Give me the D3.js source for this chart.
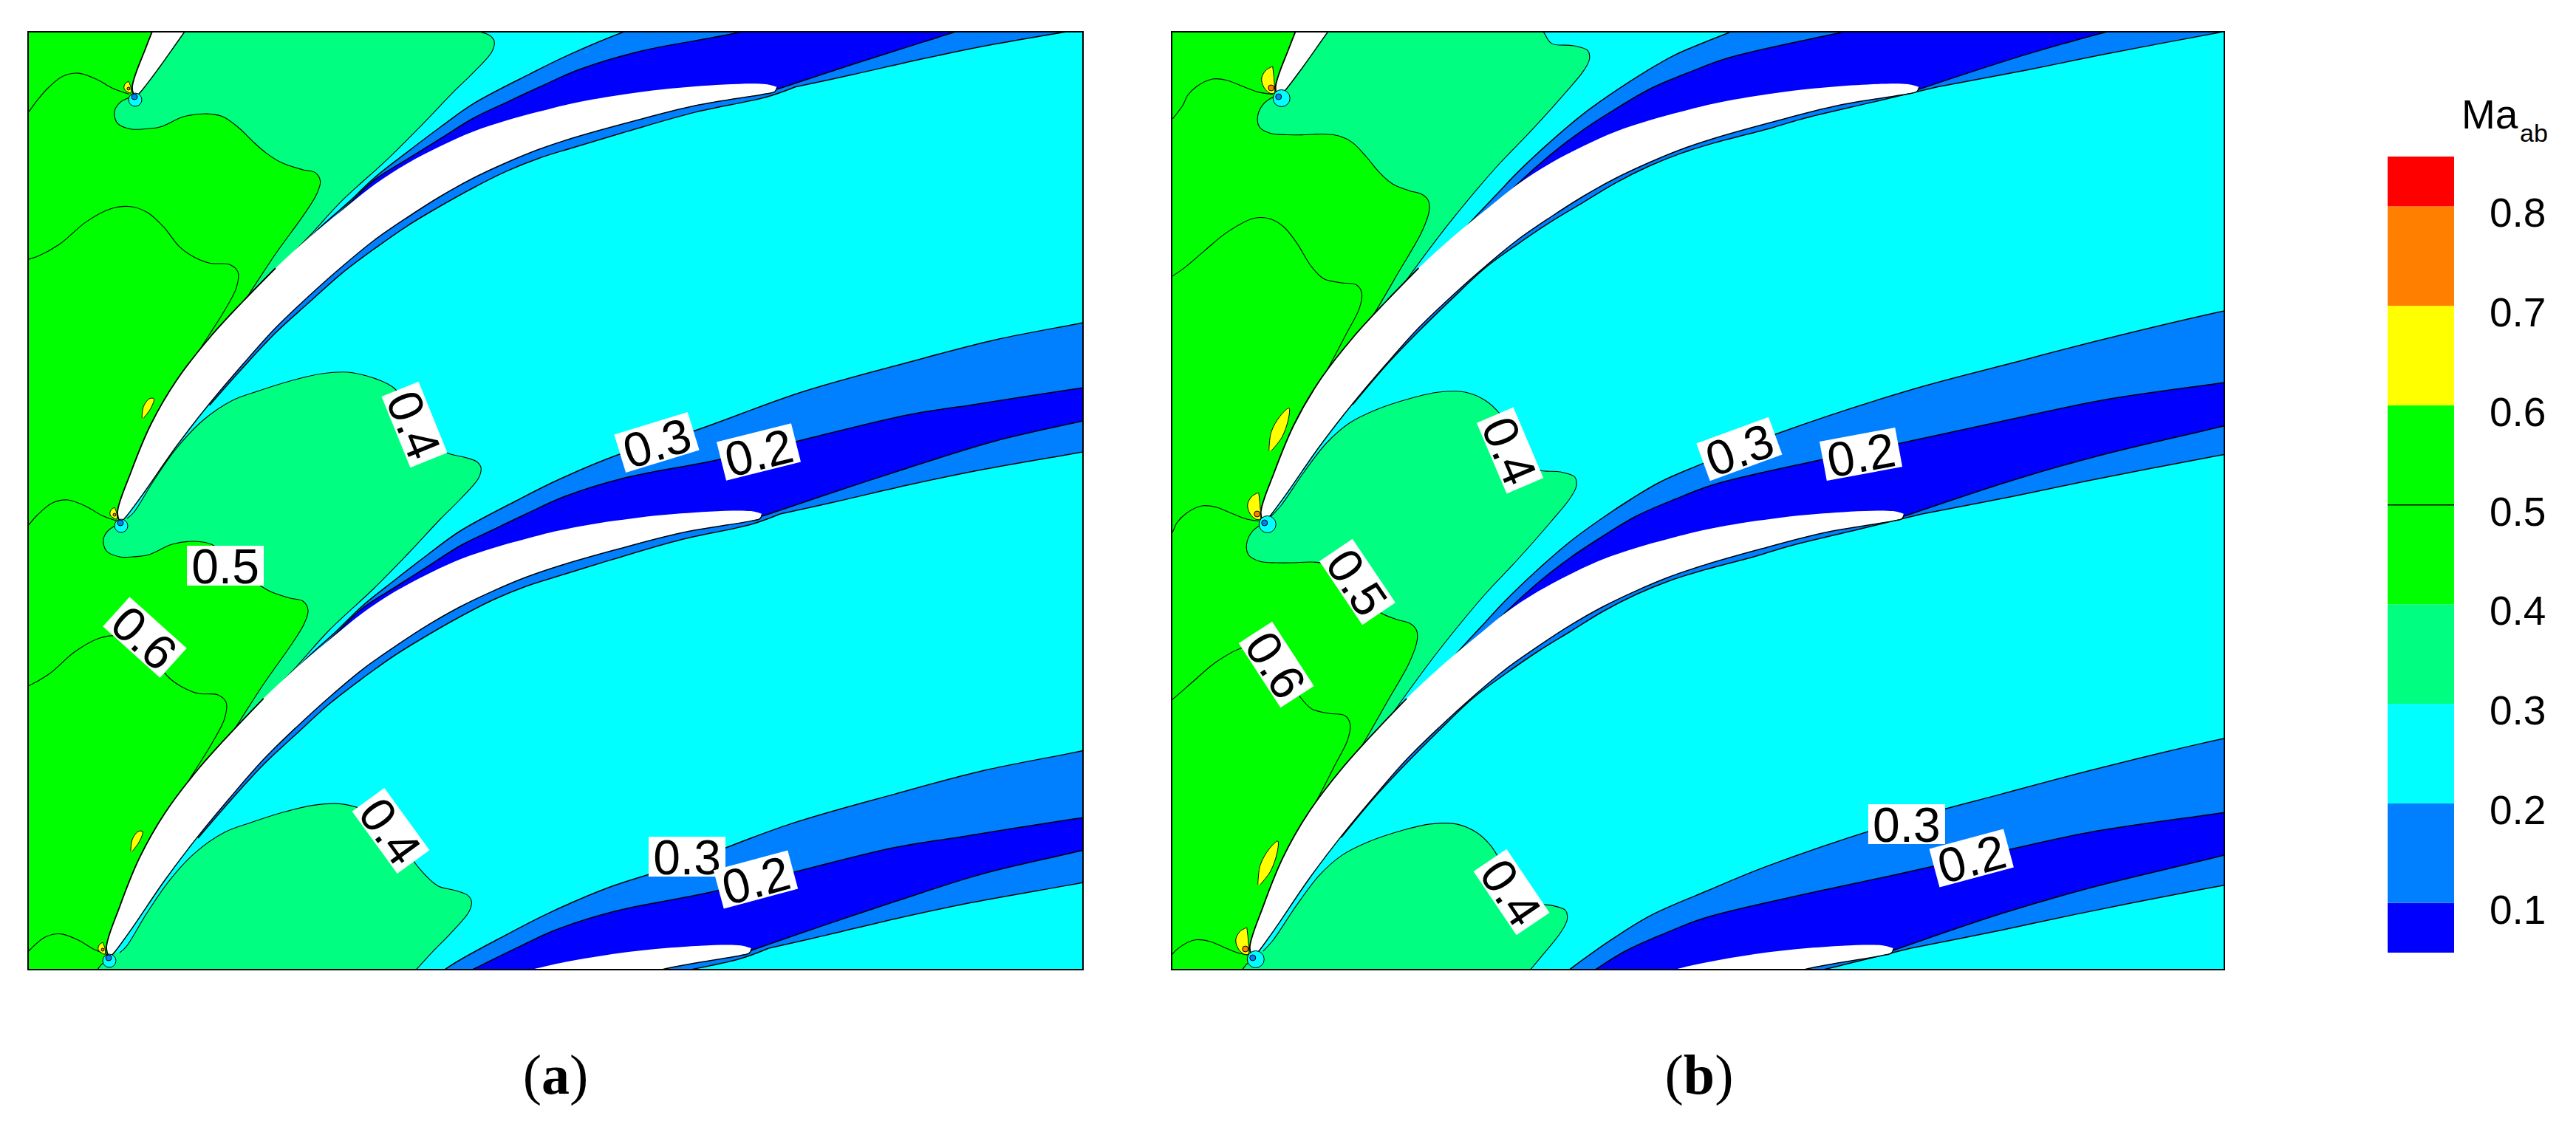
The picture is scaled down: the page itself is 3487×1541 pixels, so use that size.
<!DOCTYPE html>
<html><head><meta charset="utf-8">
<script src="https://cdn.jsdelivr.net/npm/d3@7/dist/d3.min.js"></script>
<style>html,body{margin:0;padding:0;background:#fff}svg{display:block}</style></head>
<body><div id="chart"></div>
<script>
// Colour levels of Ma_ab
const levelEdges = [0.05,0.1,0.2,0.3,0.4,0.6,0.7,0.8,0.85];
const levelColors = ["#0000ff","#0080ff","#00ffff","#00ff80","#00ff00","#ffff00","#ff8000","#ff0000"];
const legendTicks = [0.1,0.2,0.3,0.4,0.5,0.6,0.7,0.8];

// Blade outline (read off, blade no. 2 of the passage)
const bladeUpper = [[163,708],[159,694],[177,640],[204,575],[239,515],[284,457],[329,408],[373,363],[418,322],[463,285],[507,250],[552,221],[596,198],[641,178],[686,163],[730,151],[775,140],[850,127],[941,117],[1037,114],[1052,118]];
const bladeLower = [[1052,118],[1049,124],[1037,127],[941,143],[850,166],[775,187],[730,202],[686,220],[641,241],[596,266],[552,294],[507,325],[463,361],[418,401],[373,444],[329,493],[284,546],[239,604],[195,667],[172,698],[163,708]];
const bladeCopies = [[1.006,19,0.982,-563],[1,0,1,0],[0.994,-14,1.0186,576],[0.988,-22,1.037,1162]];
// Contour stacks (read off around blade no. 3); repeated for each passage
const stackCopies = [[1.012,33,0.964,-1118],[1.006,14.1,0.9817,-565.5],[1,0,1,0],[0.994,-9,1.0186,575]];
const leShifts = [[19,-577],[0,0],[-16,589]];
const camber = [[1010,698],[921,708],[831,725],[668,770],[535,838],[446,904]];
const leadingEdge = [148,1297];

// Panel (a) contours
const aHump = [[172,702],[181,694],[208,651],[239,607],[275,569],[315,542],[351,529],[396,515],[436,506],[471,504],[503,511],[525,520],[534,526],[555,555],[580,590],[605,613],[628,619],[645,625],[651,633],[648,647],[623,676],[596,703],[552,750],[507,796],[446,853],[401,903],[357,950],[340,975]];
const aGreen = [[162,710],[148,717],[140,730],[144,746],[162,754],[180,754],[202,751],[233,737],[264,733],[286,737],[308,753],[326,771],[344,787],[366,801],[393,810],[410,814],[417,826],[412,844],[397,869],[357,926],[326,974],[313,994],[300,1010]];
const aLine60 = [[20,935],[38,929],[66,913],[102,882],[135,864],[162,861],[184,869],[206,889],[228,917],[246,930],[268,939],[295,941],[306,951],[304,973],[286,1008],[268,1037],[255,1058],[240,1085]];
const aLine50 = [[160,706],[138,698],[117,686],[92,677],[71,681],[51,697],[38,712],[25,730]];
const aMidUpper = [[366,939],[392,914],[424,883],[455,855],[490,821],[535,785],[579,751],[623,719],[699,678],[755,650],[836,616],[941,583],[1085,531],[1228,491],[1348,460],[1466,437],[1510,428]];
const aDarkUpper = [[419,893],[455,858],[490,824],[535,795],[579,767],[623,739],[668,717],[712,696],[765,672],[846,647],[970,623],[1085,596],[1228,562],[1324,547],[1466,525],[1510,519]];
const aDarkLower = [[1032,699],[1133,665],[1228,634],[1348,597],[1466,570],[1510,560]];
const aMidLower = [[1056,696],[1133,679],[1228,657],[1324,637],[1466,612],[1510,604]];
const aBand = [[1056,696],[1017,710],[921,731],[831,757],[756,780],[712,794],[668,812],[623,835],[579,860],[535,887],[490,919],[446,953],[401,994],[357,1035],[313,1083],[268,1135]];
const aSliver = [[177,1153],[179,1137],[187,1126],[193,1126],[189,1139],[179,1153]];
const aBubble = [[155,687],[150,691],[149,697],[153,701],[158,703],[158,695]];
const aBubbleCore = [155,697,2];
const aCircle = [164,712,9];
const aCircleCore = [163,708,4];
const aLabels = [["0.4",561,575,68],["0.5",305,766,0],["0.6",196,863,42],["0.4",529,1125,54],["0.3",889,599,-17],["0.2",1027,612,-14],["0.3",930,1160,0],["0.2",1023,1191,-15]];

// Panel (b) contours
const bHump = [[172,700],[186,685],[217,640],[248,600],[279,573],[315,555],[360,540],[400,531],[436,531],[463,542],[483,560],[505,595],[525,620],[536,636],[565,639],[585,646],[587,658],[579,674],[552,707],[507,758],[462,806],[401,880],[357,939],[326,983],[305,1015]];
const bGreen = [[162,709],[148,719],[140,735],[142,751],[157,760],[180,762],[202,762],[228,761],[251,764],[268,773],[286,792],[304,814],[322,830],[344,839],[361,844],[370,853],[371,867],[361,896],[330,951],[299,1005],[268,1055],[246,1092]];
const bLine60 = [[20,960],[39,947],[68,922],[99,896],[135,877],[157,878],[175,889],[193,912],[211,942],[228,960],[251,966],[273,969],[280,980],[277,1001],[259,1037],[233,1087],[210,1126],[193,1160]];
const bLine50 = [[160,706],[140,703],[119,695],[99,687],[79,685],[58,695],[45,708],[39,721],[25,740]];
const bMidUpper = [[384,933],[410,901],[437,871],[464,842],[490,814],[535,771],[579,733],[623,701],[661,676],[702,652],[780,619],[860,587],[1037,529],[1180,491],[1300,460],[1452,424],[1510,412]];
const bDarkUpper = [[406,912],[424,896],[455,867],[490,830],[535,789],[579,755],[623,726],[668,699],[721,676],[774,656],[917,623],[1027,600],[1180,567],[1300,542],[1452,520],[1510,512]];
const bDarkLower = [[1032,699],[1180,650],[1300,616],[1452,580],[1510,566]];
const bMidLower = [[1056,696],[1180,672],[1276,652],[1452,618],[1510,608]];
const bBand = [[1056,696],[969,717],[874,740],[831,753],[756,773],[712,787],[668,805],[623,828],[579,855],[535,882],[490,913],[446,946],[401,989],[357,1033],[313,1080],[268,1134]];
const bSliver = [[155,1198],[158,1172],[170,1150],[182,1139],[181,1155],[172,1180],[158,1198]];
const bBubble = [[156,667],[147,672],[141,683],[144,695],[152,703],[158,703],[158,686]];
const bBubbleCore = [154,696,4];
const bCircle = [168,710,11.5];
const bCircleCore = [164,708,4];
const bLabels = [["0.4",497,610,67],["0.5",290,788,56],["0.6",180,900,57],["0.4",499,1208,56],["0.3",808,608,-20],["0.2",973,615,-10.5],["0.3",1035,1116,0],["0.2",1123,1162,-15]];

const captions = [["a",752],["b",2300]];

const W = 3487, H = 1541;
const svg = d3.select("#chart").append("svg").attr("width",W).attr("height",H).attr("viewBox",[0,0,W,H]);
svg.append("rect").attr("width",W).attr("height",H).attr("fill","#fff");

const colorOf = d3.scaleThreshold().domain(levelEdges.slice(1,-1)).range(levelColors);
const curve = d3.line().curve(d3.curveCatmullRom.alpha(0.5));

function drawPanel(id, xRange, d){
  const x = d3.scaleLinear().domain([38,1466]).range(xRange);
  const y = d3.scaleLinear().domain([43,1313]).range([43,1313]);
  const map = (t,pts)=>pts.map(p=>[x(p[0]*t[0]+t[1]), y(p[1]*t[2]+t[3])]);
  const seg = (t,...parts)=>parts.map((s,i)=>curve(map(t,s)).replace(/^M/, i? "L":"M")).join("")+"Z";
  svg.append("clipPath").attr("id","clip"+id).append("rect")
     .attr("x",xRange[0]).attr("y",43).attr("width",xRange[1]-xRange[0]).attr("height",1270);
  const g = svg.append("g").attr("clip-path",`url(#clip${id})`);
  g.append("rect").attr("x",xRange[0]).attr("y",43).attr("width",xRange[1]-xRange[0]).attr("height",1270).attr("fill",colorOf(0.25));
  const fill = (path,c)=>g.append("path").attr("d",path).attr("fill",c);
  const stroke = (pts,w=1.2)=>g.append("path").attr("d",curve(pts)).attr("fill","none").attr("stroke","#000").attr("stroke-width",w);
  const leftClose = (startY)=>[leadingEdge,[-100,leadingEdge[1]],[-100,startY]];

  stackCopies.forEach(t=>fill(seg(t,d.hump,leftClose(d.hump[0][1])),colorOf(0.35)));
  stackCopies.forEach(t=>{
    fill(seg(t,d.midUpper,d.midLower.slice().reverse(),d.band.slice(1)),colorOf(0.15));
    fill(seg(t,d.darkUpper,d.darkLower.slice().reverse(),camber),colorOf(0.05));
  });
  stackCopies.forEach(t=>fill(seg(t,d.green,leftClose(d.green[0][1]-22)),colorOf(0.5)));
  stackCopies.forEach(t=>{
    fill(seg(t,d.sliver),colorOf(0.65));
    [d.hump,d.green,d.line60,d.line50].forEach(s=>stroke(map(t,s),1.1));
    [d.midUpper,d.darkUpper,d.darkLower,d.midLower,d.band].forEach(s=>stroke(map(t,s),1.5));
    stroke(map(t,d.sliver),1);
  });
  bladeCopies.forEach(t=>{
    g.append("path").attr("d",seg(t,bladeUpper,bladeLower.slice(1))).attr("fill","#fff");
    stroke(map(t,bladeLower),1.5);
    stroke(map(t,bladeUpper.slice(0,8)),1.8);
  });
  leShifts.forEach(([dx,dy])=>{
    const t=[1,dx,1,dy];
    const bubble = d.bubble.concat([d.bubble[0]]);
    g.append("path").attr("d",curve(map(t,bubble))+"Z").attr("fill",colorOf(0.65)).attr("stroke","#000").attr("stroke-width",1);
    const dot=(c,col)=>{ const p=map(t,[c]); return g.append("circle").attr("cx",p[0][0]).attr("cy",p[0][1]).attr("r",c[2]).attr("fill",col).attr("stroke","#000").attr("stroke-width",1); };
    dot(d.bubbleCore,colorOf(0.75));
    dot(d.circle,colorOf(0.25));
    dot(d.circleCore,colorOf(0.15));
  });
  // contour labels
  d.labels.forEach(([txt,cx,cy,a])=>{
    const l = svg.append("g").attr("transform",`translate(${x(cx)},${y(cy)}) rotate(${a})`);
    l.append("rect").attr("x",-52).attr("y",-27).attr("width",104).attr("height",54).attr("fill","#fff");
    l.append("text").attr("text-anchor","middle").attr("y",24).attr("font-family","Liberation Sans").attr("font-size",66).attr("fill","#000").text(txt);
  });
  // frame
  svg.append("rect").attr("x",xRange[0]).attr("y",43).attr("width",xRange[1]-xRange[0]).attr("height",1270)
     .attr("fill","none").attr("stroke","#000").attr("stroke-width",2);
}
drawPanel("a",[38,1466],{hump:aHump,green:aGreen,line60:aLine60,line50:aLine50,midUpper:aMidUpper,darkUpper:aDarkUpper,darkLower:aDarkLower,midLower:aMidLower,band:aBand,sliver:aSliver,bubble:aBubble,bubbleCore:aBubbleCore,circle:aCircle,circleCore:aCircleCore,labels:aLabels});
drawPanel("b",[1586,3011],{hump:bHump,green:bGreen,line60:bLine60,line50:bLine50,midUpper:bMidUpper,darkUpper:bDarkUpper,darkLower:bDarkLower,midLower:bMidLower,band:bBand,sliver:bSliver,bubble:bBubble,bubbleCore:bBubbleCore,circle:bCircle,circleCore:bCircleCore,labels:bLabels});

// Colour bar
const cy = d3.scaleLinear().domain([0.05,0.85]).range([1290,212]);
const bar = svg.append("g");
levelColors.forEach((c,i)=>{
  bar.append("rect").attr("x",3232).attr("width",90).attr("y",cy(levelEdges[i+1])).attr("height",cy(levelEdges[i])-cy(levelEdges[i+1])).attr("fill",c);
});
bar.append("line").attr("x1",3232).attr("x2",3322).attr("y1",cy(0.5)).attr("y2",cy(0.5)).attr("stroke","#000").attr("stroke-width",1.5);
const axis = d3.axisRight(cy).tickValues(legendTicks).tickSize(0).tickPadding(0).tickFormat(d3.format(".1f"));
const ag = svg.append("g").attr("transform","translate(3370,10)").call(axis);
ag.select(".domain").remove();
ag.selectAll("text").attr("font-family","Liberation Sans").attr("font-size",55).attr("fill","#000");
svg.append("text").attr("x",3332).attr("y",174).attr("font-family","Liberation Sans").attr("font-size",55).text("Ma");
svg.append("text").attr("x",3411).attr("y",192).attr("font-family","Liberation Sans").attr("font-size",34).text("ab");

// Captions
captions.forEach(([c,cx])=>{
  const t = svg.append("text").attr("x",cx).attr("y",1481).attr("text-anchor","middle").attr("font-family","Liberation Serif").attr("font-size",76);
  t.append("tspan").text("(");
  t.append("tspan").attr("font-weight","bold").text(c);
  t.append("tspan").text(")");
});
</script></body></html>
